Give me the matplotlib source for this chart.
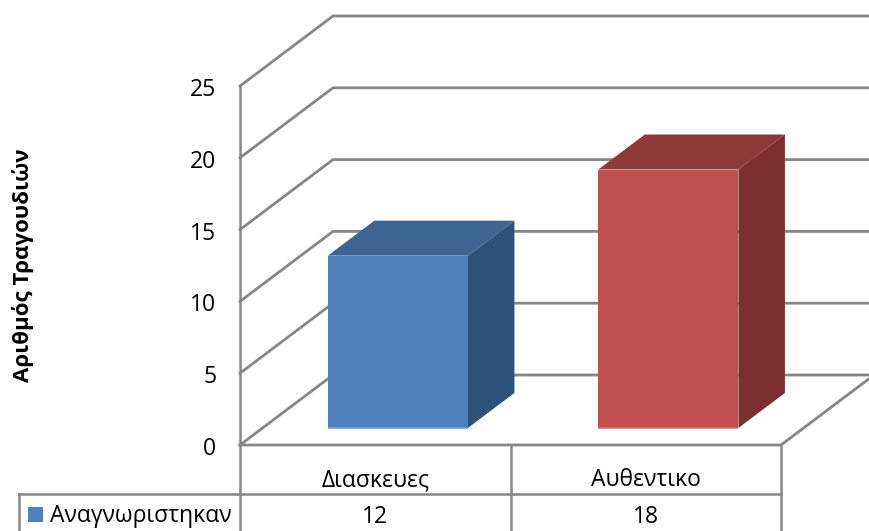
import matplotlib
matplotlib.use('Agg')
import matplotlib.pyplot as plt
from matplotlib.lines import Line2D
from matplotlib.patches import Polygon, Rectangle
from matplotlib.transforms import ScaledTranslation, blended_transform_factory

categories = ['Διασκευες', 'Αυθεντικο']
values = [12, 18]
series_name = 'Αναγνωριστηκαν'
y_ticks = [0, 5, 10, 15, 20, 25]
y_label = 'Αριθμός Τραγουδιών'

W, H = 869, 531
GREY = '#868686'
BLUE = {'front': '#4F81BD', 'top': '#3D6594', 'side': '#2F5279', 'edge': '#74A0D6'}
RED = {'front': '#C0504D', 'top': '#8E3A38', 'side': '#7A302E', 'edge': '#DC706C'}
bar_colors = [BLUE, RED]

# oblique depth of the chart box, in data units
DEPTH_X = 93 / 270.5
DEPTH_Y = 70 / 14.36
BAR_WIDTH = 0.518
BAR_NEAR = 0.243
BAR_FAR = 0.743


def project(x, y, depth):
    return x + depth * DEPTH_X, y + depth * DEPTH_Y


def box(x0, x1, y0, y1, colors, ax):
    front = [project(x0, y0, BAR_NEAR), project(x1, y0, BAR_NEAR),
             project(x1, y1, BAR_NEAR), project(x0, y1, BAR_NEAR)]
    side = [project(x1, y0, BAR_NEAR), project(x1, y0, BAR_FAR),
            project(x1, y1, BAR_FAR), project(x1, y1, BAR_NEAR)]
    top = [project(x0, y1, BAR_NEAR), project(x1, y1, BAR_NEAR),
           project(x1, y1, BAR_FAR), project(x0, y1, BAR_FAR)]
    ax.add_patch(Polygon(side, fc=colors['side'], ec='none', zorder=3, clip_on=False))
    ax.add_patch(Polygon(top, fc=colors['top'], ec='none', zorder=3, clip_on=False))
    ax.add_patch(Polygon(front, fc=colors['front'], ec='none', zorder=4, clip_on=False))
    ax.plot([front[0][0], front[1][0]], [front[0][1], front[1][1]], color=colors['edge'],
            lw=1.2, zorder=5, clip_on=False, solid_capstyle='butt')


plt.rcParams['font.family'] = ['Open Sans', 'DejaVu Sans']
fig = plt.figure(figsize=(W / 100, H / 100), dpi=100)
ax = fig.add_axes([240 / W, 1 - 445 / H, 541 / W, 359 / H])
ax.set_xlim(0, len(categories))
ax.set_ylim(0, 25)

for s in ['top', 'right', 'bottom', 'left']:
    ax.spines[s].set_visible(False)
ax.patch.set_visible(False)

line_kw = dict(color=GREY, lw=2.0, clip_on=False, zorder=1, solid_joinstyle='miter')

# side wall and back wall gridlines
for t in y_ticks:
    bx, by = project(0, t, 1)
    ex, ey = project(2, t, 1)
    ax.plot([0, bx, ex + 0.1], [t, by, ey], **line_kw)

# floor
fx, fy = project(2, 0, 1)
ax.plot([0, 2, fx], [0, 0, fy], **line_kw)

for i, v in enumerate(values):
    c = i + 0.5
    box(c - BAR_WIDTH / 2, c + BAR_WIDTH / 2, 0, v, bar_colors[i], ax)

ax.set_yticks(y_ticks)
ax.tick_params(axis='y', length=0, pad=17, labelsize=16.5, labelcolor='#000000')
# nudge the value labels down a pixel
nudge = ScaledTranslation(0, -1 / 100, fig.dpi_scale_trans)
for lbl in ax.get_yticklabels():
    lbl.set_transform(lbl.get_transform() + nudge)
ax.set_ylabel(y_label, fontsize=16, fontweight='bold')
ax.yaxis.set_label_coords((34 - 240) / 541, (445 - 265) / 359)

ax.set_xticks([i + 0.5 for i in range(len(categories))])
ax.set_xticklabels(categories, fontsize=16.5)
ax.tick_params(axis='x', length=0, pad=16.5)

# data table below the chart
trans = blended_transform_factory(ax.transData, fig.transFigure)
for i, v in enumerate(values):
    ax.text(i + 0.5, 1 - 517 / H, str(v), transform=trans, ha='center', va='center',
            fontsize=16.5, clip_on=False)


def table_line(x, y):
    fig.add_artist(Line2D([p / W for p in x], [1 - p / H for p in y], color=GREY, lw=1.8))


table_line([240, 240], [86, 531])
table_line([510.5, 510.5], [445, 531])
table_line([781, 781], [445, 531])
table_line([19, 19], [494, 531])
table_line([19, 781], [494, 494])
fig.add_artist(Rectangle((28 / W, 1 - 522 / H), 15 / W, 15 / H, transform=fig.transFigure,
                         fc=BLUE['front'], ec='none'))
fig.text(50 / W, 1 - 516 / H, series_name, fontsize=16.5, ha='left', va='center')

fig.savefig('out.png', dpi=100)
